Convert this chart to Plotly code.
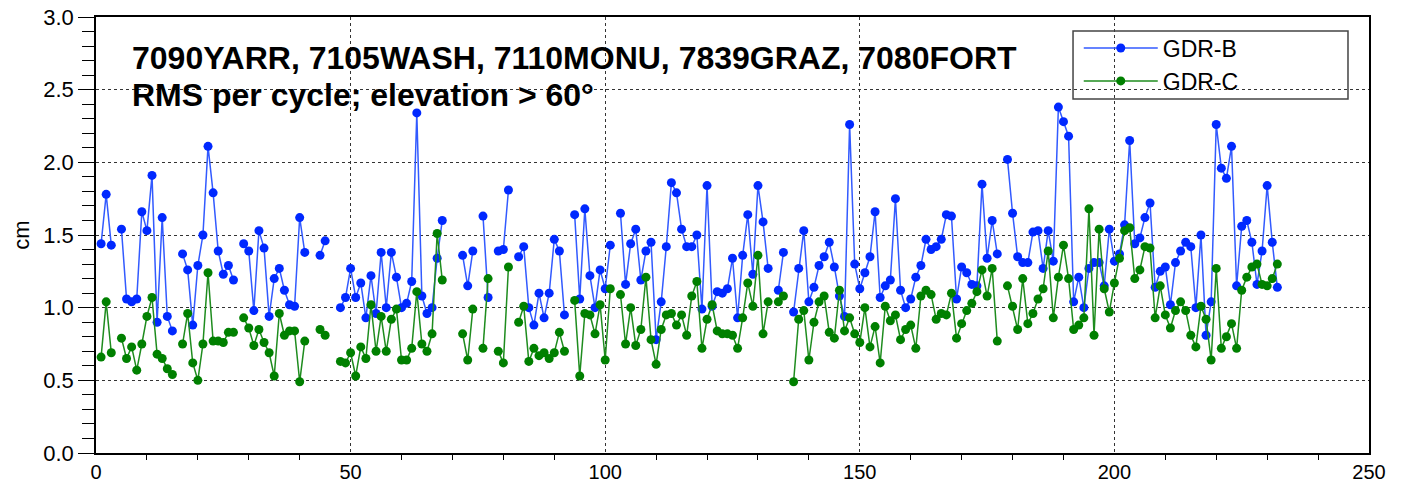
import plotly.graph_objects as go

cycles = list(range(1, 233))

gdr_b = [
    1.44, 1.78, 1.43, None, 1.54, 1.06, 1.04, 1.06, 1.66, 1.53,   # 1-10
    1.91, 0.90, 1.62, 0.94, 0.84, None, 1.37, 1.26, 0.88, 1.29,   # 11-20
    1.50, 2.11, 1.79, 1.39, 1.23, 1.29, 1.19, None, 1.44, 1.39,   # 21-30
    0.98, 1.53, 1.41, 0.94, 1.20, 1.27, 1.12, 1.02, 1.01, 1.62,   # 31-40
    1.38, None, None, 1.36, 1.46, None, None, 1.00, 1.07, 1.27,   # 41-50
    1.07, 1.17, 0.93, 1.22, 0.96, 1.38, 1.00, 1.38, 1.21, 1.00,   # 51-60
    1.03, 1.18, 2.34, 1.08, 0.96, 1.00, 1.34, 1.60, None, None,   # 61-70
    None, 1.36, 1.15, 1.39, None, 1.63, 1.07, None, 1.39, 1.40,   # 71-80
    1.81, None, 1.35, 1.42, 1.00, 0.88, 1.10, 0.93, 1.10, 1.47,   # 81-90
    1.39, 0.95, None, 1.64, 1.06, 1.68, 1.22, 1.00, 1.26, 1.13,   # 91-100
    1.43, None, 1.65, 1.16, 1.44, 1.54, 1.19, 1.39, 1.45, 0.78,   # 101-110
    1.04, 1.42, 1.86, 1.79, 1.54, 1.42, 1.42, 1.50, 0.99, 1.84,   # 111-120
    1.01, 1.11, 1.10, 1.13, 1.34, 0.93, 1.36, 1.64, 1.23, 1.84,   # 121-130
    1.59, 1.27, None, 1.12, 1.38, None, 0.97, 1.27, 1.53, 1.04,   # 131-140
    1.14, 1.29, 1.35, 1.45, 1.28, 1.08, 0.94, 2.26, 1.30, 1.13,   # 141-150
    1.24, 1.35, 1.66, 1.07, 1.15, 1.19, 1.75, 1.12, 1.00, 1.06,   # 151-160
    1.21, 1.29, 1.47, 1.40, 1.42, 1.47, 1.64, 1.63, 1.06, 1.28,   # 161-170
    1.24, 1.16, 1.15, 1.85, 1.34, 1.60, 1.37, None, 2.02, 1.65,   # 171-180
    1.35, 1.31, 1.31, 1.52, 1.53, 1.27, 1.53, 1.32, 2.38, 2.28,   # 181-190
    2.18, 1.04, 1.21, 1.00, 1.27, 1.31, 1.31, 1.15, 1.54, 1.32,   # 191-200
    1.37, 1.57, 2.15, 1.44, 1.48, 1.62, 1.72, 1.14, 1.25, 1.28,   # 201-210
    1.02, 1.31, 1.39, 1.45, 1.42, 1.00, 1.50, 0.81, 1.04, 2.26,   # 211-220
    1.96, 1.89, 2.11, 1.15, 1.56, 1.60, 1.45, 1.16, 1.39, 1.84,   # 221-230
    1.45, 1.14,                                                   # 231-232
]

gdr_c = [
    0.66, 1.04, 0.69, None, 0.79, 0.65, 0.73, 0.57, 0.75, 0.94,   # 1-10
    1.07, 0.68, 0.65, 0.58, 0.54, None, 0.75, 0.96, 0.62, 0.50,   # 11-20
    0.75, 1.24, 0.77, 0.77, 0.76, 0.83, 0.83, None, 0.93, 0.86,   # 21-30
    0.74, 0.85, 0.76, 0.69, 0.53, 0.96, 0.81, 0.84, 0.84, 0.49,   # 31-40
    0.77, None, None, 0.85, 0.81, None, None, 0.63, 0.62, 0.69,   # 41-50
    0.53, 0.73, 0.65, 1.02, 0.70, 0.94, 0.70, 0.92, 0.99, 0.64,   # 51-60
    0.64, 0.72, 1.11, 0.75, 0.70, 0.82, 1.51, 1.19, None, None,   # 61-70
    None, 0.82, 0.64, 0.99, None, 0.72, 1.20, None, 0.70, 0.62,   # 71-80
    1.28, None, 0.90, 1.01, 0.63, 0.72, 0.67, 0.69, 0.65, 0.69,   # 81-90
    0.83, 0.70, None, 1.05, 0.53, 0.96, 0.95, 0.82, 1.02, 0.64,   # 91-100
    1.13, None, 1.09, 0.75, 1.00, 0.74, 0.85, 1.21, 0.78, 0.61,   # 101-110
    0.85, 0.95, 0.96, 0.88, 0.95, 0.81, 1.08, 1.18, 0.72, 0.92,   # 111-120
    1.02, 0.84, 0.82, 0.82, 0.81, 0.72, 0.93, 1.17, 1.01, 1.36,   # 121-130
    0.82, 1.04, None, 1.04, 1.08, None, 0.49, 0.92, 0.98, 0.64,   # 131-140
    0.90, 1.04, 1.08, 0.83, 0.79, 1.12, 0.84, 0.93, 0.82, 0.76,   # 141-150
    1.00, 0.73, 0.87, 0.62, 1.01, 0.91, 0.95, 0.78, 0.85, 0.88,   # 151-160
    0.72, 1.08, 1.12, 1.09, 0.92, 0.96, 0.95, 1.10, 0.79, 0.89,   # 161-170
    0.98, 1.03, 1.11, 1.26, 1.08, 1.27, 0.77, None, 1.15, 1.01,   # 171-180
    0.85, 1.20, 0.89, 0.96, 1.06, 1.13, 1.39, 0.93, 1.21, 1.43,   # 181-190
    1.20, 0.85, 0.88, 0.93, 1.68, 0.81, 1.54, 1.13, 0.97, 1.17,   # 191-200
    1.34, 1.53, 1.55, 1.20, 1.26, 1.42, 1.41, 0.93, 1.15, 0.95,   # 201-210
    0.86, 0.98, 1.04, 0.98, 0.81, 0.73, 1.01, 0.92, 0.64, 1.27,   # 211-220
    0.72, 0.80, 0.89, 0.72, 1.12, 1.21, 1.28, 1.30, 1.16, 1.15,   # 221-230
    1.20, 1.30,                                                   # 231-232
]

title_lines = ["7090YARR, 7105WASH, 7110MONU, 7839GRAZ, 7080FORT",
               "RMS per cycle; elevation > 60°"]

FONT = "Liberation Sans, Arial, sans-serif"

fig = go.Figure()
fig.add_trace(go.Scatter(
    x=cycles, y=gdr_b, name="GDR-B", mode="lines+markers",
    line=dict(color="rgb(50,90,255)", width=1.5),
    marker=dict(color="rgb(0,40,255)", size=9, symbol="circle"),
    connectgaps=False,
))
fig.add_trace(go.Scatter(
    x=cycles, y=gdr_c, name="GDR-C", mode="lines+markers",
    line=dict(color="rgb(30,140,30)", width=1.5),
    marker=dict(color="rgb(0,128,0)", size=9, symbol="circle"),
    connectgaps=False,
))

fig.add_annotation(text="<b>" + title_lines[0] + "</b>", xref="paper", yref="paper",
                   x=0.0267, y=0.907, xanchor="left", yanchor="middle", showarrow=False,
                   font=dict(family=FONT, size=32, color="black"))
fig.add_annotation(text="<b>" + title_lines[1] + "</b>", xref="paper", yref="paper",
                   x=0.0267, y=0.822, xanchor="left", yanchor="middle", showarrow=False,
                   font=dict(family=FONT, size=32, color="black"))

# legend frame
fig.add_shape(type="rect", xref="paper", yref="paper",
              x0=0.7675, x1=0.9835, y0=0.812, y1=0.968,
              line=dict(color="#444444", width=1.5), fillcolor="rgba(0,0,0,0)", layer="above")

axis_common = dict(
    showline=True, mirror=True, linecolor="black", linewidth=1.5,
    showgrid=True, gridcolor="#333333", griddash="dot", gridwidth=1,
    zeroline=False, tickcolor="black", automargin=False,
)

fig.update_xaxes(range=[0, 250], dtick=50, tick0=0, ticks="",
                 tickfont=dict(family=FONT, size=20, color="black"),
                 minor=dict(dtick=10, ticks="outside", ticklen=5, tickcolor="black", showgrid=False),
                 **axis_common)
fig.update_yaxes(range=[0, 3.0], dtick=0.5, tick0=0, ticks="outside", ticklen=16, tickformat=".1f",
                 tickfont=dict(family=FONT, size=22, color="black"),
                 minor=dict(dtick=0.1, ticks="outside", ticklen=12, tickcolor="black", showgrid=False),
                 title=dict(text="cm", font=dict(family=FONT, size=22, color="black"), standoff=8),
                 **axis_common)

fig.update_layout(
    width=1406, height=483,
    margin=dict(l=96, r=37, t=17, b=30),
    paper_bgcolor="white", plot_bgcolor="white",
    font=dict(family=FONT, color="black"),
    legend=dict(x=0.772, y=0.978, xanchor="left", yanchor="top",
                borderwidth=0, bgcolor="rgba(255,255,255,0)",
                font=dict(family=FONT, size=23, color="black"),
                itemwidth=74),
)

fig.write_html("out.html")
